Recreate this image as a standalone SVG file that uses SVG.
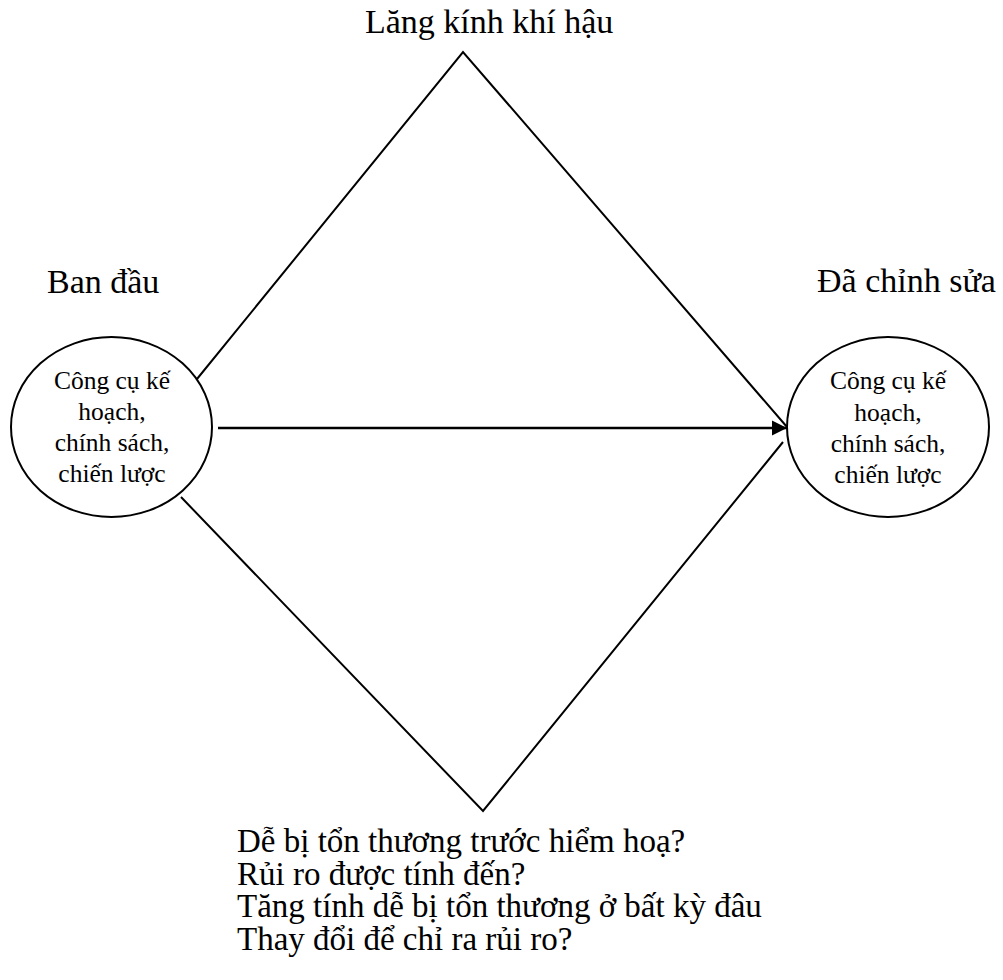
<svg xmlns="http://www.w3.org/2000/svg" width="1003" height="980" viewBox="0 0 1003 980">
  <style>
    .bg { fill: #ffffff; }
    .node { fill: #ffffff; stroke: #000000; stroke-width: 2; }
    .edge { fill: none; stroke: #000000; stroke-width: 2; }
    .arrow { fill: none; stroke: #000000; stroke-width: 2.5; }
    .label { font-family: "Liberation Serif", "Times New Roman", serif; fill: #000000; }
    .big { font-size: 34px; }
    .list { font-size: 33px; }
    .inner { font-size: 25.5px; text-anchor: middle; }
  </style>
  <defs>
    <marker id="head" viewBox="0 0 10 10" refX="10" refY="5" markerWidth="6" markerHeight="6.4" markerUnits="strokeWidth" orient="auto">
      <path d="M0,0 L10,5 L0,10 Z" fill="#000000"/>
    </marker>
  </defs>
  <rect class="bg" x="0" y="0" width="1003" height="980"/>

  <!-- prism outline and direct arrow -->
  <g id="connectors">
    <polyline class="edge" points="197,379 463,52 787,427"/>
    <polyline class="edge" points="181,497 483,811 783,442"/>
    <line class="arrow" x1="218" y1="428" x2="787" y2="428" marker-end="url(#head)"/>
  </g>

  <g id="lens-label">
    <text class="label big" x="365" y="33">Lăng kính khí hậu</text>
  </g>

  <g id="original">
    <text class="label big" x="47" y="293">Ban đầu</text>
    <ellipse class="node" cx="111.5" cy="427" rx="100.5" ry="90"/>
    <text class="label inner" x="112" y="389">Công cụ kế</text>
    <text class="label inner" x="112" y="420">hoạch,</text>
    <text class="label inner" x="112" y="451">chính sách,</text>
    <text class="label inner" x="112" y="482">chiến lược</text>
  </g>

  <g id="revised">
    <text class="label big" x="817" y="292">Đã chỉnh sửa</text>
    <ellipse class="node" cx="888" cy="427" rx="101" ry="90"/>
    <text class="label inner" x="888" y="389">Công cụ kế</text>
    <text class="label inner" x="888" y="421">hoạch,</text>
    <text class="label inner" x="888" y="452">chính sách,</text>
    <text class="label inner" x="888" y="483">chiến lược</text>
  </g>

  <g id="questions">
    <text class="label list" x="237" y="852">Dễ bị tổn thương trước hiểm hoạ?</text>
    <text class="label list" x="237" y="885">Rủi ro được tính đến?</text>
    <text class="label list" x="237" y="917">Tăng tính dễ bị tổn thương ở bất kỳ đâu</text>
    <text class="label list" x="237" y="950">Thay đổi để chỉ ra rủi ro?</text>
  </g>
</svg>
